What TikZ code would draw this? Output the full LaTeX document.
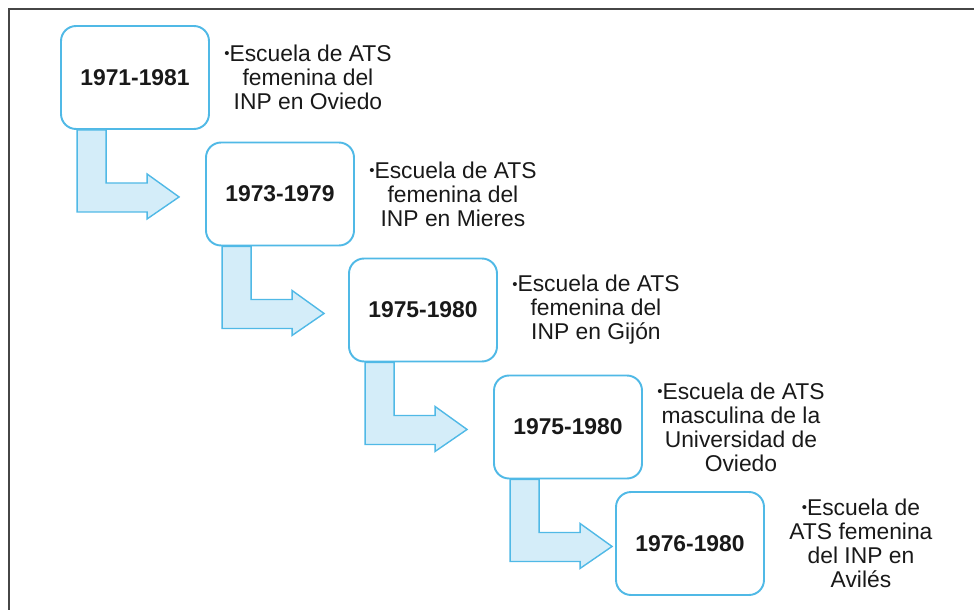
\documentclass[tikz,border=0pt]{standalone}
\usepackage{fontspec}
\setmainfont{Liberation Sans}
\usetikzlibrary{calc}

\definecolor{skyline}{RGB}{80,185,230}
\definecolor{skyfill}{RGB}{212,237,249}
\definecolor{framegray}{RGB}{70,70,70}
\definecolor{inkgray}{RGB}{25,25,25}

% small raised bullet
\newcommand{\smallbul}{\raisebox{1.6pt}{\fontsize{8.5}{8.5}\selectfont•}}

\begin{document}
\begin{tikzpicture}[x=0.02cm, y=-0.02cm,
	yearbox/.style={draw=skyline, line width=1.1pt, rounded corners=0.3cm, fill=white, text=inkgray,
		minimum width=2.96cm, minimum height=2.06cm, font=\fontsize{13}{15}\selectfont\bfseries},
	note/.style={align=center, inner sep=0pt, text=inkgray, font=\fontsize{13}{13.7}\selectfont},
	bentarr/.style={draw=skyline, fill=skyfill, line width=0.8pt, line join=miter}]
	\useasboundingbox (0,0) rectangle (974,609);
	
	% outer frame
	\draw[framegray, line width=1.1pt] (9,640) -- (9,9) -- (1000,9);
	
	% year boxes
	\node[yearbox] (y1) at (135,77.5) {1971-1981};
	\node[yearbox] (y2) at (280,194) {1973-1979};
	\node[yearbox] (y3) at (423,310) {1975-1980};
	\node[yearbox] (y4) at (568,427) {1975-1980};
	\node[yearbox] (y5) at (690,543.5) {1976-1980};
	
	% bent arrows below each box
	\draw[bentarr, shift={(y1.south west)}] (17,0) |- (87,82) -- (87,89) -- (119,67) -- (87,44) -- (87,53) -| (46,0) -- cycle;
	\draw[bentarr, shift={(y2.south west)}] (17,0) |- (87,82) -- (87,89) -- (119,67) -- (87,44) -- (87,53) -| (46,0) -- cycle;
	\draw[bentarr, shift={(y3.south west)}] (17,0) |- (87,82) -- (87,89) -- (119,67) -- (87,44) -- (87,53) -| (46,0) -- cycle;
	\draw[bentarr, shift={(y4.south west)}] (17,0) |- (87,82) -- (87,89) -- (119,67) -- (87,44) -- (87,53) -| (46,0) -- cycle;
	
	% texts beside the boxes
	\node[note] (t1) at ($(y1.east)+(98,0)$) {\smallbul Escuela de ATS\\femenina del\\INP en Oviedo};
	\node[note] (t2) at ($(y2.east)+(98,0)$) {\smallbul Escuela de ATS\\femenina del\\INP en Mieres};
	\node[note] (t3) at ($(y3.east)+(98,0)$) {\smallbul Escuela de ATS\\femenina del\\INP en Gijón};
	\node[note] (t4) at ($(y4.east)+(98,0)$) {\smallbul Escuela de ATS\\masculina de la\\Universidad de\\Oviedo};
	\node[note] (t5) at ($(y5.east)+(96,0)$) {\smallbul Escuela de\\ATS femenina\\del INP en\\Avilés};
\end{tikzpicture}
\end{document}
